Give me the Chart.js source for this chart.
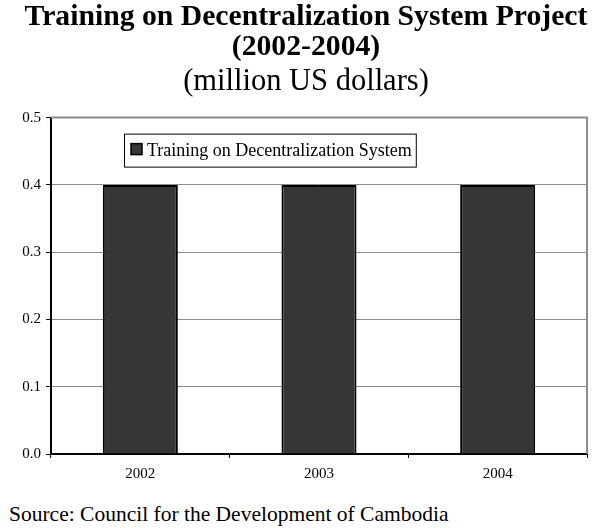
<!DOCTYPE html>
<html>
<head>
<meta charset="utf-8">
<script src="https://cdn.jsdelivr.net/npm/chart.js@4/dist/chart.umd.min.js"></script>
<style>
  body { margin: 0; background: #fff; }
  #wrap { position: relative; width: 612px; height: 528px; }
  #source { position: absolute; left: 9px; top: 502px; font: 21.5px "Liberation Serif", serif; color: #000; white-space: nowrap; }
</style>
</head>
<body>
<div id="wrap">
  <canvas id="barChart" width="612" height="490"></canvas>
  <div id="source">Source: Council for the Development of Cambodia</div>
</div>
<script>
const years = ['2002', '2003', '2004']
const trainingValues = [0.4, 0.4, 0.4]
const seriesName = 'Training on Decentralization System'
const titleLines = ['Training on Decentralization System Project', '(2002-2004)']
const subtitleText = '(million US dollars)'

const serif = '"Liberation Serif", "Times New Roman", serif'

// gray frame on top/right + legend box inside plot
const framePlugin = {
  id: 'framePlugin',
  beforeDatasetsDraw(chart) {
    const { ctx, chartArea } = chart
    ctx.save()
    ctx.strokeStyle = '#8c8c8c'
    ctx.lineWidth = 2
    ctx.beginPath()
    ctx.moveTo(chartArea.left, chartArea.top)
    ctx.lineTo(chartArea.right, chartArea.top)
    ctx.lineTo(chartArea.right, chartArea.bottom)
    ctx.stroke()
    ctx.restore()
  },
  afterDraw(chart) {
    const { ctx, chartArea } = chart
    const ds = chart.data.datasets[0]
    ctx.save()
    ctx.font = '18px ' + serif
    const textW = ctx.measureText(ds.label).width
    const x = chartArea.left + 73
    const y = chartArea.top + 16
    const w = textW + 27
    const h = 33
    ctx.fillStyle = '#fff'
    ctx.fillRect(x, y, w, h)
    ctx.strokeStyle = '#000'
    ctx.lineWidth = 1
    ctx.strokeRect(x + 0.5, y + 0.5, w, h)
    ctx.fillStyle = ds.backgroundColor
    ctx.fillRect(x + 7, y + 10, 11, 11)
    ctx.lineWidth = 1.5
    ctx.strokeRect(x + 7, y + 10, 11, 11)
    ctx.fillStyle = '#000'
    ctx.textBaseline = 'middle'
    ctx.fillText(ds.label, x + 23, y + h / 2 + 1)
    ctx.restore()
  }
}

function barChart(){
  const data = {
    labels: years,
    datasets: [{
      label: seriesName,
      data: trainingValues,
      backgroundColor: '#363636',
      borderColor: '#000',
      borderWidth: 2,
      barPercentage: 0.42,
      categoryPercentage: 1
    }]
  }
  const config = {
    type: 'bar',
    data: data,
    options: {
      responsive: false,
      animation: false,
      layout: { padding: 0 },
      plugins: {
        legend: { display: false },
        tooltip: { enabled: false },
        title: {
          display: true,
          text: titleLines,
          color: '#000',
          font: { family: serif, size: 29.7, weight: 'bold', lineHeight: 1.02 },
          padding: { top: 2, bottom: 0 }
        },
        subtitle: {
          display: true,
          text: subtitleText,
          color: '#000',
          font: { family: serif, size: 30.5, lineHeight: 1.05 },
          padding: { top: 3, bottom: 20 }
        }
      },
      scales: {
        x: {
          grid: { display: true, drawOnChartArea: false, drawTicks: true, tickLength: 4, tickColor: '#000', offset: true },
          border: { color: '#000', width: 2 },
          ticks: { color: '#000', font: { family: serif, size: 15 }, padding: 7 }
        },
        y: {
          min: 0,
          max: 0.5,
          grid: { color: '#8c8c8c', lineWidth: 1, tickLength: 5, tickColor: '#000' },
          border: { color: '#000', width: 2 },
          ticks: {
            stepSize: 0.1,
            color: '#000',
            font: { family: serif, size: 15 },
            padding: 5,
            callback: v => v.toFixed(1)
          },
          afterFit(scale) { scale.width = 51 }
        },
        // empty right axis, only reserves the margin on the right
        yRight: {
          position: 'right',
          grid: { display: false },
          border: { display: false },
          ticks: { display: false },
          afterFit(scale) { scale.width = 25 }
        }
      }
    },
    plugins: [framePlugin]
  }
  new Chart(document.getElementById('barChart').getContext('2d'), config)
}

barChart()
</script>
</body>
</html>
